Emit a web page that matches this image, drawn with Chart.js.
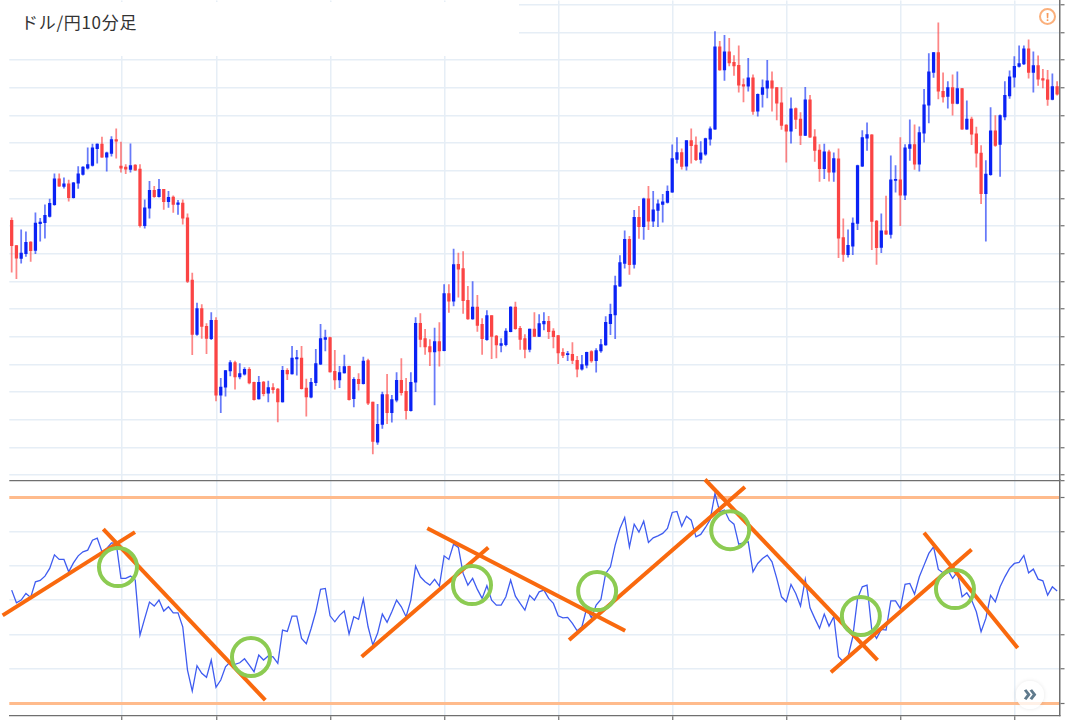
<!DOCTYPE html>
<html lang="ja">
<head>
<meta charset="utf-8">
<title>ドル/円10分足</title>
<script src="https://cdn.jsdelivr.net/npm/chart.js@4"></script>
<style>
html,body{margin:0;padding:0;background:#fff;overflow:hidden}
#wrap{position:relative;width:1065px;height:720px}
canvas{position:absolute;left:0;top:0}
#titleBox{position:absolute;left:0;top:2px;width:519px;height:54px;background:#fff}
#titleBox span{position:absolute;left:21px;top:8px;font:17px/24px "Noto Sans CJK JP","Noto Sans",sans-serif;color:#333;letter-spacing:.7px;white-space:nowrap}
#warn{position:absolute;left:1039px;top:8px;width:13px;height:13px;border:2px solid #fbb07c;border-radius:50%;color:#f79a5a;font:bold 11px/13px "Noto Sans",sans-serif;text-align:center}
#more{position:absolute;left:1016px;top:681px;width:28px;height:28px;border-radius:50%;background:rgba(255,255,255,.78);box-shadow:0 0 4px rgba(0,0,0,.1);color:#5f7a8c;font:bold 23px/23px "Noto Sans",sans-serif;text-align:center}
</style>
</head>
<body>
<div id="wrap">
<canvas id="c" width="1065" height="720"></canvas>
<div id="titleBox"><span>ドル/円10分足</span></div>
<div id="warn">!</div>
<div id="more">»</div>
</div>
<script>
// Price series (no price labels are visible in the picture: points above the panel floor)
const opens = [
260,234.7,222,226.7,238.3,230,256.7,257.7,264,275.7,
301.7,294,296.7,282.7,297.3,306,312.3,315,331.7,336.3,
323.3,327,341,314.3,313.3,311,315.3,311.3,254.7,272.3,
290,283.7,291,278.7,283.3,276,277.3,262.7,200.3,146,
171.7,154,141.7,160,85,93,109.3,117.7,103.3,106,
111,98,81.3,98.3,87,92.7,91.3,78.3,110,106.3,
121.3,122.3,92.3,83,97.7,116,141,142.7,109,100.3,
107.3,114,81.7,101,96.7,119.7,78.3,38,55.7,85.7,
67.7,80,100,89,69.7,98,157,141.7,133.7,128.3,
138.7,129.7,186.7,179.3,216,211.7,180,161.3,173.3,156,
140.7,164.7,144.3,135,135.7,148.7,173.3,152,141.7,131,
151.3,144,156.3,159,149.3,144.7,128,125.7,126,120,
111,115,128.7,119.7,129.3,135.3,156.7,165.3,194.3,217,
241,216,263,253.7,281.7,259.3,270,276,278,288.3,
321,328,314.3,340,335.3,321,326.3,341.3,351.3,433.7,
410.7,428.7,418.3,415.3,396,394.3,402.7,369.3,386,392.3,
399.7,393,377.7,355.3,349.3,372,361.3,345,380.7,343.7,
330.3,311.7,328.7,308.3,321.7,242.7,225.7,234.3,257,314.3,
342.3,345.7,259.3,233,249.7,246,300,300.7,285.3,332,
336,316.3,347.3,375.3,408,428,389.3,384,393,377,
392,351.3,361.3,346.7,327.3,286.7,305.7,349.7,336,363.7,
384.7,403.3,414,416.7,431.7,408,415,402,400.7,381,
394];
const closes = [
234.7,222.3,227.3,238,229.7,257.3,258.3,265,277,301.7,
294.3,296.7,282.7,297.7,306.7,313.3,316,332.7,336.3,323.3,
327.7,341,339.3,312.3,311.3,315,310.3,254.7,272.7,290,
283.7,291,278.7,283,276,277.7,262.3,199,146,171.7,
154,142,160,85,93.3,109.7,117.7,103.3,106.7,111,
97.3,80.7,98,86.7,92.7,90.7,78.3,110,106.3,122.3,
122.7,91.7,83.3,98,116.7,141.7,142.7,108.3,100.3,107.7,
113.7,80.7,101,96.7,119.3,77,38.7,56,85.7,67.7,
80.7,100,87.7,69.7,98,157,141,133.3,128.3,138.7,
129.3,186.7,179.3,215.7,211.3,179.7,161.3,173.3,155,141.7,
164.7,144,135.3,136.7,149.3,173.3,151.7,141,131,151.3,
144,156.7,159,148.7,143.7,127.3,125,126.7,120,111,
115.7,128,119.3,129.7,135.7,158,166,194.7,217.7,241,
215.7,263,253.7,281.7,259.3,270.7,276.7,278.7,289,322,
328,314,340,334.7,320.7,327.7,342,351.7,433.7,410.7,
428.7,417.7,414.7,395.3,394.3,402.7,369,386.3,393,399.7,
392.3,377.3,355,349.3,371.7,361,345,380.7,343.3,330,
311.7,328.7,308.3,322,242.3,226,235,257.3,315,343,
346,259,232.7,249.7,246.3,300.7,301,285.3,332.7,336,
316.3,348,375.7,408.7,428,389.3,383.7,393,377,392,
351.3,361.3,346.3,327.3,286.7,306.3,349.7,335,365,385.3,
403.7,414.3,417,431.7,408,415,401.3,400.3,381,394,
386.3];
const highs = [
262.7,235,250.7,248.7,238.7,267.7,262,275.7,281.3,306.7,
306.7,302.7,300.3,298,314,314,332.7,336.3,336.7,343.3,
328.3,344,351.7,338.3,316,336.7,316,316,280.7,299,
294,301,291,289,284.7,280,280.7,266.7,207.3,177.3,
175.7,156.7,167.7,162.7,102,110,119.7,119.3,116.7,112.7,
112.7,98.3,104,99,99.3,96.7,92,114,111.7,134,
130,134,101.3,102,131,156,150.3,143.3,130,114,
125.3,114.3,102.7,106.7,123.3,121.3,78.3,76,88.3,106,
85,107.7,121.7,102,107.7,162.7,166.7,151,140.7,152.3,
157.7,195.7,195.7,231.3,227.3,228.7,194,198.7,185,161.7,
169.7,164.7,145,141.7,151.7,173.7,178.3,154,145.7,151.3,
167.7,165.7,167.7,164,151.7,145,131.7,129,137.7,124,
125,128.3,129.7,131.7,141,163.7,176.3,204.3,224.7,249.7,
244,270,274,282.3,294,289,280.7,286,294.7,335.7,
343,331.7,340,351.7,343.7,339,342.3,353.7,449,439.3,
445.3,442.3,425,434.7,401.7,422.3,405.7,386.7,400.7,420.3,
408.7,393.3,393,356,382.7,372.7,368,393.3,385.3,351,
336,336.3,330.3,327.7,331.7,261.7,250.7,262.7,315.3,350,
357.7,346,260,266.7,284.3,324.7,315,343,336,360.7,
355.7,353.7,391.3,427,428.3,457.7,407.7,399,405.7,408.7,
392.3,379.7,363.3,353.3,335,320,373,365,365.7,399,
409.7,424,434.7,434.7,440.7,428.7,424.7,411.3,410.3,406.7,
399];
const lows = [
208.3,201.7,217.3,224,219,226.7,239.3,242.3,263.3,275,
294,292.3,279.3,282.3,292,305.3,311.3,314.3,317.3,323,
309.3,324.3,322.3,308.3,306.7,308.3,310,253.3,252.3,262.3,
283,283.3,271,273,268,266,256.3,197.7,125.7,145,
142,126.7,140.7,79.3,67.7,84,104.3,91,101.3,105,
96.3,80,81,84.3,78.3,87,58.3,78,100.7,106,
105,91,64,82.3,94.7,115.7,129.3,108,91,92.7,
107,80,73.3,90,96,75.7,26.3,35.7,51.7,56.7,
58,78.3,85,61,69,88.7,133.3,126,114.7,75.3,
114,129.3,168,174.3,183.3,167,161,161,149,126,
140,121.7,122.3,128.3,134.3,148.3,151,131,122.3,128.3,
143.7,143.7,150.3,141.7,132.3,116.7,122.7,119.7,116.7,103.3,
110,112.3,118,108,128,135,145.7,141.7,194,212.3,
206,212.3,242,241,250.7,253.7,253.7,258.3,277.3,288,
317.3,311.3,310.3,317.3,319.7,317.3,325,335.3,351,410,
400,414.7,405,388.3,378.7,389.3,366,364.3,373.3,382.7,
369.3,360.7,351,318.3,337.3,351.7,335.7,344.7,343,319,
299,301.7,299.3,299,222.7,219,223.3,225.7,250.7,313.7,
330,230.7,216,227.7,246,242.3,288.3,254.7,280.7,320,
311,309.3,338.3,357.7,403,381.7,378.3,372.3,365.3,376.7,
351,351,335.7,313.3,276.7,239.3,305,334,304,360.7,
382,393.3,413.3,416,402.3,388.3,395,392.7,375,380.7,
385.3];
// Oscillator series
const oscillator = [
10,-2.7,0,6.7,2.7,18.3,19.7,24,31.7,45.3,
40.7,40.7,28.3,37.3,44.3,48.3,50,60,62,48.3,
51.7,57.3,56.7,21.7,21.7,24,20,-35,-18.3,-2,
-6,0,-11,-6.7,-12.7,-12.7,-26.7,-70,-91,-65.7,
-73.3,-77.3,-60,-87.3,-80,-66.7,-61.7,-64.3,-62.7,-58.7,
-65,-71.7,-55,-60,-56,-56.7,-63.3,-30,-31.3,-16,
-16,-38.3,-43.7,-28.7,-11.7,10.7,11.7,-15.7,-21.7,-15.3,
-11,-34,-16.7,-19.3,1,-26.7,-45,-33.3,-14,-22.3,
-11.7,0,-6.7,-16.7,0,34,23.3,18.3,15,20.7,
14,44.3,40.7,56,52.7,26.7,15,21.7,10.7,1.7,
14.3,0,-5,-5,3.3,20,4,-3.3,-10,4.7,
0,8.3,10,1.7,-3.3,-15.7,-17.7,-17.3,-23.3,-30.7,
-26.7,-8.3,-17.7,-5,0.7,26.7,33.3,55,71.7,82.7,
53.3,76,68,79,57.7,62.3,64.3,66.7,71.7,87.7,
88.7,74,84,80,63.3,65.7,72.7,80.7,106.7,88.3,
90,80,76,56,57.3,58.3,28.3,36.7,41.7,45,
38.3,21.7,3.3,-1.7,15.7,6.7,-6,20.7,-7.7,-18.3,
-28.3,-14,-26,-16.7,-56.7,-61.7,-56.7,-36.7,1.7,13.3,
15,-30,-38.3,-29.3,-30,-0.7,-0.7,-8.3,15.7,16.7,
6,23.3,35,46.7,53.3,30.7,27.3,30,21.7,28.3,
3.3,7.3,0,-11.7,-31.7,-18.3,4.7,-1.7,13.3,23.3,
31.7,36.7,37.7,44.7,27.3,31,21,19.3,5,13.3,
9];
// Axis ticks
const priceTicks = [475.7,448,420.3,392.7,365,337.3,309.6,281.9,254.3,226.6,198.9,171.2,143.5,115.9,88.2,60.5,32.8,5.1];
const oscTicks = [120,103,68.7,34.3,0,-34.3,-68.7,-103];
const oscBands = [103,-103];
const oscTop = 120;
const timeTicks = [23.25,43.15,67.15,91.2,115.2,139.2,163.1,187.1,211];
// Hand drawn marks on the oscillator: [index, value, index, value]
const trendLines = [
[-1.9,-15.3,25.95,68],[19.28,71,53.37,-100],[73.65,-56.7,100.3,52.7],[87.46,72,129.1,-30.7],
[117.3,-40,154.3,113.3],[145.9,120.7,182.2,-60],[172.4,-72.3,202,50.7],[192,67.3,211.7,-48]];
const circles = [[22.37,33],[50.36,-57],[96.87,15],[123.2,9],[151.2,70],[178.7,-16],[198.5,11]];

const labels = opens.map((_, i) => i);
const BLUE = '#0a22f5', RED = '#fb4444', BLUE_W = 'rgba(10,40,245,.62)', RED_W = 'rgba(251,60,60,.62)';
const isUp = opens.map((o, i) => closes[i] >= o);
const GRID = '#e6eef6', DARK = '#6f6f6f';

const marksPlugin = {
  id: 'marks',
  afterDatasetsDraw(chart) {
    const {ctx, scales: {x, osc}} = chart;
    ctx.save();
    ctx.lineCap = 'butt';
    ctx.strokeStyle = '#f9690e';
    ctx.lineWidth = 4;
    trendLines.forEach(([a, b, c, d]) => {
      ctx.beginPath();
      ctx.moveTo(x.getPixelForValue(a), osc.getPixelForValue(b));
      ctx.lineTo(x.getPixelForValue(c), osc.getPixelForValue(d));
      ctx.stroke();
    });
    ctx.strokeStyle = '#8ccb52';
    circles.forEach(([a, b]) => {
      ctx.beginPath();
      ctx.arc(x.getPixelForValue(a), osc.getPixelForValue(b), 19, 0, Math.PI * 2);
      ctx.stroke();
    });
    ctx.restore();
  }
};

new Chart(document.getElementById('c'), {
  type: 'bar',
  data: {
    labels,
    datasets: [
      {label: 'wick', order: 3, yAxisID: 'price', grouped: false, barThickness: 1.1,
       data: lows.map((l, i) => [l, highs[i]]),
       backgroundColor: isUp.map(u => u ? BLUE_W : RED_W)},
      {label: 'body', order: 2, yAxisID: 'price', grouped: false, barThickness: 2.6,
       data: opens.map((o, i) => [o, closes[i]]),
       backgroundColor: isUp.map(u => u ? BLUE : RED)},
      {label: 'oscillator', type: 'line', order: 1, yAxisID: 'osc', data: oscillator,
       borderColor: '#3f5cf0', borderWidth: 1.3, pointRadius: 0, tension: 0, fill: false}
    ]
  },
  options: {
    responsive: false,
    animation: false,
    events: [],
    layout: {padding: {left: 9.3, right: 0, top: 0, bottom: 0}},
    plugins: {legend: {display: false}, tooltip: {enabled: false}, title: {display: false}},
    scales: {
      x: {
        type: 'category',
        offset: true,
        afterBuildTicks(s) { s.ticks = timeTicks.map(v => ({value: v})); },
        afterFit(s) { s.height = 4; },
        ticks: {autoSkip: false, maxRotation: 0, padding: 0, callback: () => '', font: {size: 1}},
        grid: {offset: false, color: GRID, lineWidth: 1.5, tickColor: DARK, tickLength: 4, tickWidth: 1.2},
        border: {color: DARK, width: 1.3}
      },
      price: {
        type: 'linear', position: 'right', stack: 'panels', stackWeight: 480,
        min: 0, max: 480,
        afterBuildTicks(s) { s.ticks = priceTicks.map(v => ({value: v})); },
        afterFit(s) { s.width = 5.5; },
        ticks: {padding: 0, callback: () => '', font: {size: 1}},
        grid: {color: GRID, lineWidth: 1.5, tickColor: DARK, tickLength: 5, tickWidth: 1.2},
        border: {color: DARK, width: 1.5}
      },
      osc: {
        type: 'linear', position: 'right', stack: 'panels', stackWeight: 236,
        min: -116, max: oscTop,
        afterBuildTicks(s) { s.ticks = oscTicks.map(v => ({value: v})); },
        afterFit(s) { s.width = 5.5; },
        ticks: {padding: 0, callback: () => '', font: {size: 1}},
        grid: {
          color: c => c.tick.value === oscTop ? DARK : oscBands.includes(c.tick.value) ? '#ffbb8c' : GRID,
          lineWidth: c => c.tick.value === oscTop ? 1.3 : oscBands.includes(c.tick.value) ? 3 : 1.5,
          tickColor: DARK, tickLength: 5, tickWidth: 1.2
        },
        border: {color: DARK, width: 1.5}
      }
    }
  },
  plugins: [marksPlugin]
});
</script>
</body>
</html>
